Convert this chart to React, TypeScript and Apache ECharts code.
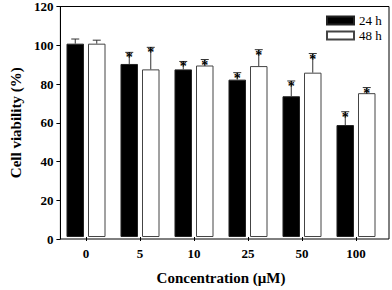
import React, { useEffect, useRef } from "react";
import * as echarts from "echarts";

const categories = ["0", "5", "10", "25", "50", "100"];
const viability24 = [100, 89.5, 86.7, 81.4, 72.8, 57.9];
const error24 = [2.4, 6.0, 4.1, 3.6, 7.9, 6.9];
const viability48 = [100, 86.7, 88.7, 88.4, 85.0, 74.4];
const error48 = [1.8, 11.4, 3.1, 8.5, 9.9, 2.9];
const significant = [false, true, true, true, true, true];
const yTicks = { min: 0, max: 120, interval: 20 };

const FONT = "'Liberation Serif', 'Times New Roman', serif";
const BAR_W = 17.5;
const OFFSET = 10.75;

function errorSeries(values: number[], errors: number[], dir: number) {
  return {
    type: "custom",
    xAxisIndex: 1,
    yAxisIndex: 1,
    z: 5,
    data: values.map((v, i) => [i, v, v + errors[i], significant[i] ? 1 : 0]),
    renderItem: (params: any, api: any) => {
      const base = api.coord([api.value(0), api.value(1)]);
      const top = api.coord([api.value(0), api.value(2)]);
      const x = base[0] + dir * OFFSET;
      const children: any[] = [
        { type: "line", shape: { x1: x, y1: base[1], x2: x, y2: top[1] }, style: { stroke: "#333", lineWidth: 1 } },
        { type: "line", shape: { x1: x - 4, y1: top[1], x2: x + 4, y2: top[1] }, style: { stroke: "#333", lineWidth: 1 } },
      ];
      if (api.value(3) === 1) {
        children.push({
          type: "text",
          style: {
            text: "*",
            x: x,
            y: top[1] + 5.5,
            align: "center",
            verticalAlign: "middle",
            font: `bold 14px ${FONT}`,
            fill: "#000",
          },
        });
      }
      return { type: "group", children };
    },
  };
}

export default function App() {
  const ref = useRef<HTMLDivElement>(null);
  useEffect(() => {
    const chart = echarts.init(ref.current!, null, { renderer: "svg" });
    chart.setOption({
      animation: false,
      backgroundColor: "#fff",
      grid: [
        { left: 52, right: 3, top: 5, bottom: 51, show: true, borderColor: "#000", borderWidth: 1, backgroundColor: "transparent" },
        { left: 59, right: 9, top: 5, bottom: 51 },
      ],
      legend: {
        orient: "vertical",
        left: 321,
        top: 9,
        itemWidth: 27,
        itemHeight: 8,
        itemGap: 2,
        icon: "rect",
        textStyle: { fontFamily: FONT, fontSize: 13, color: "#000", lineHeight: 12 },
        data: ["24 h", "48 h"],
      },
      xAxis: [
        { type: "value", gridIndex: 0, show: false, min: 0, max: 1 },
        {
          type: "category",
          gridIndex: 1,
          data: categories,
          axisLine: { show: false },
          axisTick: { show: true, alignWithLabel: true, length: 4, lineStyle: { color: "#000" } },
          axisLabel: { margin: 10, fontFamily: FONT, fontWeight: "bold", fontSize: 13, color: "#000" },
          name: "Concentration (\u03bcM)",
          nameLocation: "middle",
          nameGap: 33,
          nameTextStyle: { fontFamily: FONT, fontWeight: "bold", fontSize: 15, color: "#000" },
        },
      ],
      yAxis: [
        {
          type: "value",
          gridIndex: 0,
          ...yTicks,
          splitLine: { show: false },
          axisLine: { show: true, lineStyle: { color: "#000" } },
          axisTick: { show: true, length: 4, lineStyle: { color: "#000" } },
          axisLabel: { margin: 7, fontFamily: FONT, fontWeight: "bold", fontSize: 13, color: "#000" },
          name: "Cell viability (%)",
          nameLocation: "middle",
          nameGap: 32,
          nameTextStyle: { fontFamily: FONT, fontWeight: "bold", fontSize: 15, color: "#000" },
        },
        { type: "value", gridIndex: 1, ...yTicks, show: false },
      ],
      series: [
        {
          name: "24 h",
          type: "bar",
          xAxisIndex: 1,
          yAxisIndex: 1,
          data: viability24,
          barWidth: BAR_W,
          barGap: "23%",
          itemStyle: { color: "#000", borderColor: "#222", borderWidth: 1 },
        },
        {
          name: "48 h",
          type: "bar",
          xAxisIndex: 1,
          yAxisIndex: 1,
          data: viability48,
          barWidth: BAR_W,
          barGap: "23%",
          itemStyle: { color: "#fff", borderColor: "#444", borderWidth: 1 },
        },
        errorSeries(viability24, error24, -1),
        errorSeries(viability48, error48, 1),
      ],
    });
    return () => chart.dispose();
  }, []);
  return <div ref={ref} style={{ width: 392, height: 290, position: "absolute", left: 0, top: 0 }} />;
}
